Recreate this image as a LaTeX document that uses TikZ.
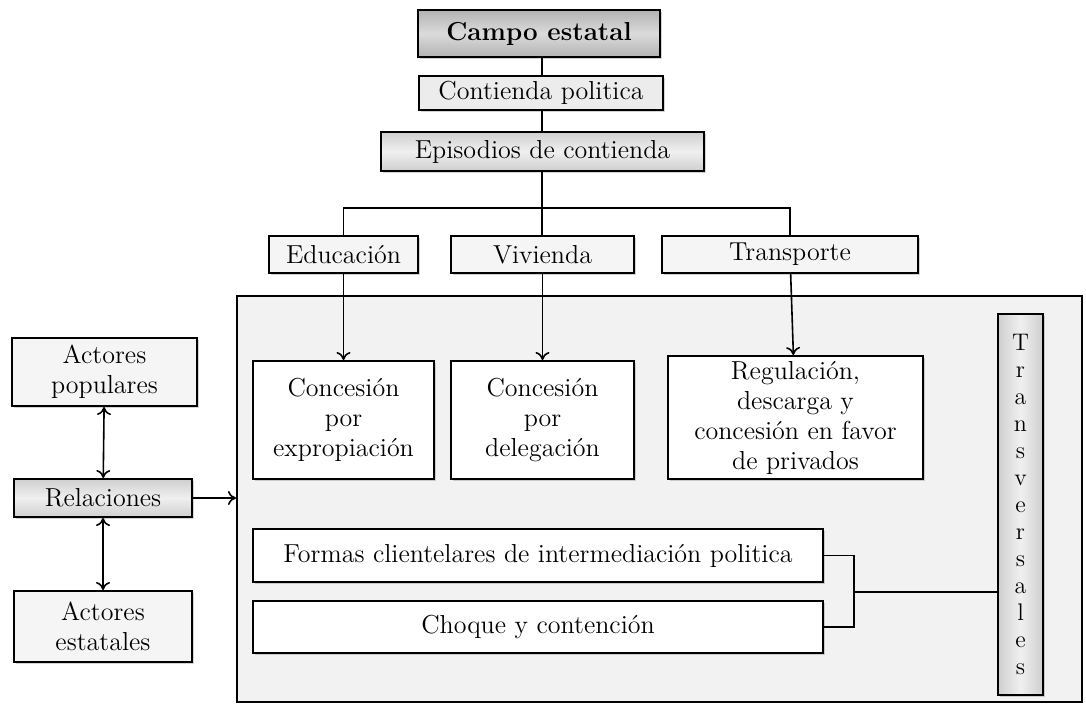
\documentclass[tikz,border=0pt]{standalone}
\usetikzlibrary{shadows,arrows.meta}

\begin{document}
\begin{tikzpicture}[x=0.5pt, y=-0.5pt, >={To[length=4pt,width=7pt]},
    caja/.style={draw, line width=1pt, fill=gray!12, align=center,
      inner sep=2pt, font=\fontsize{13}{15}\selectfont,
      drop shadow={shadow xshift=1.2pt, shadow yshift=-1.2pt, opacity=0.35}},
    blanca/.style={caja, fill=white},
    oscura/.style={caja, top color=gray!60, bottom color=gray!60,
      middle color=gray!28},
    gris/.style={caja, top color=gray!38, bottom color=gray!38,
      middle color=gray!12},
    linea/.style={line width=0.8pt}]
    \useasboundingbox (0,0) rectangle (1086,708);

    % marco comun
    \node[draw, line width=1pt, fill=gray!10, inner sep=0pt,
      minimum width=422.5pt, minimum height=203pt] (marco) at (659.5,499) {};

    % cabecera
    \node[oscura, minimum width=121pt, minimum height=23.5pt,
      font=\fontsize{13}{15}\selectfont\bfseries] (campo) at (539,33.5) {Campo estatal};
    \node[caja, fill=gray!15, minimum width=122pt, minimum height=17pt]
      (contienda) at (541,93) {Contienda politica};
    \node[gris, minimum width=161.5pt, minimum height=19.5pt]
      (episodios) at (542.5,151.5) {Episodios de contienda};

    % sectores
    \node[caja, fill=gray!8, minimum width=74.5pt, minimum height=18.5pt]
      (educacion) at (343.5,254.5) {Educación};
    \node[caja, fill=gray!8, minimum width=91.5pt, minimum height=18.5pt]
      (vivienda) at (542.5,254.5) {Vivienda};
    \node[caja, fill=gray!8, minimum width=128pt, minimum height=18.5pt]
      (transporte) at (790,254.5) {Transporte};

    % concesiones
    \node[blanca, minimum width=90.5pt, minimum height=59pt]
      (expropiacion) at (343.5,420) {Concesión\\por\\expropiación};
    \node[blanca, minimum width=91.5pt, minimum height=59pt]
      (delegacion) at (542.5,420) {Concesión\\por\\delegación};
    \node[blanca, minimum width=127.5pt, minimum height=61.5pt]
      (regulacion) at (795.5,417.5) {Regulación,\\descarga y\\concesión en favor\\de privados};

    \node[blanca, minimum width=285pt, minimum height=26.5pt]
      (formas) at (538,555.5) {Formas clientelares de intermediación politica};
    \node[blanca, minimum width=285pt, minimum height=26pt]
      (choque) at (538,627) {Choque y contención};

    \node[caja, left color=gray!38, right color=gray!38, middle color=gray!12,
      minimum width=22.5pt, minimum height=190.5pt,
      font=\fontsize{12}{13.5}\selectfont]
      (transversales) at (1020.5,504.5) {T\\r\\a\\n\\s\\v\\e\\r\\s\\a\\l\\e\\s};

    % actores
    \node[caja, fill=gray!8, minimum width=92.5pt, minimum height=34pt]
      (populares) at (104.5,372) {Actores\\populares};
    \node[gris, minimum width=89pt, minimum height=19pt]
      (relaciones) at (103,498) {Relaciones};
    \node[caja, fill=gray!8, minimum width=89pt, minimum height=35.5pt]
      (estatales) at (103,626.5) {Actores\\estatales};

    \coordinate (rama) at (542,208);
    \coordinate (union) at (854,592);

    \draw[linea] (rama |- campo.south) -- (rama |- contienda.north);
    \draw[linea] (rama |- contienda.south) -- (rama |- episodios.north);
    \draw[linea] (rama |- episodios.south) -- (rama) -- (rama |- vivienda.north);
    \draw[linea] (educacion) |- (rama) -| (transporte);

    \draw[linea,->] (educacion) -- (expropiacion);
    \draw[linea,->] (vivienda) -- (delegacion);
    \draw[linea,->] (transporte) -- (regulacion);

    \draw[linea] (formas) -| (union);
    \draw[linea] (choque) -| (union);
    \draw[linea] (union) -- (union -| transversales.west);

    \draw[linea,<->] (populares) -- (relaciones);
    \draw[linea,<->] (relaciones) -- (estatales);
    \draw[linea,->] (relaciones) -- (relaciones -| marco.west);
\end{tikzpicture}
\end{document}
